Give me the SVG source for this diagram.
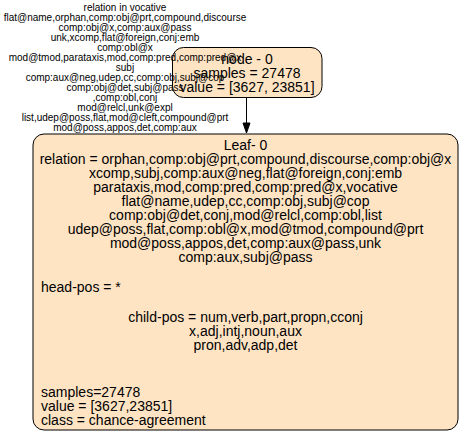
<svg xmlns="http://www.w3.org/2000/svg" width="464" height="434" viewBox="0 0 464 434">
<style>
.box{fill:#ffe4c4;stroke:#000;stroke-width:1}
.t{font-family:"Liberation Sans",Arial,Helvetica,sans-serif;font-size:14px;fill:#000}
.c{text-anchor:middle}
.s{font-family:"Liberation Sans",Arial,Helvetica,sans-serif;font-size:10px;fill:#000;text-anchor:middle}
.e{stroke:#000;stroke-width:1;fill:none}
</style>
<rect width="464" height="434" fill="#fff"/>
<g id="node0">
<rect class="box" x="172.5" y="47.5" width="149.5" height="50" rx="11" ry="11"/>
<text class="t c" x="247" y="64">node - 0</text>
<text class="t c" x="247" y="78">samples = 27478</text>
<text class="t c" x="247" y="92">value = [3627, 23851]</text>
</g>
<g id="leaf0">
<rect class="box" x="33" y="134" width="425" height="296" rx="11" ry="11"/>
<text class="t c" x="245.5" y="150">Leaf- 0</text>
<text class="t c" x="245.5" y="164">relation = orphan,comp:obj@prt,compound,discourse,comp:obj@x</text>
<text class="t c" x="245.5" y="178">xcomp,subj,comp:aux@neg,flat@foreign,conj:emb</text>
<text class="t c" x="245.5" y="192">parataxis,mod,comp:pred,comp:pred@x,vocative</text>
<text class="t c" x="245.5" y="206">flat@name,udep,cc,comp:obj,subj@cop</text>
<text class="t c" x="245.5" y="220">comp:obj@det,conj,mod@relcl,comp:obl,list</text>
<text class="t c" x="245.5" y="234">udep@poss,flat,comp:obl@x,mod@tmod,compound@prt</text>
<text class="t c" x="245.5" y="248">mod@poss,appos,det,comp:aux@pass,unk</text>
<text class="t c" x="245.5" y="262">comp:aux,subj@pass</text>
<text class="t" x="41" y="292">head-pos = *</text>
<text class="t c" x="245.5" y="322">child-pos = num,verb,part,propn,cconj</text>
<text class="t c" x="245.5" y="336">x,adj,intj,noun,aux</text>
<text class="t c" x="245.5" y="350">pron,adv,adp,det</text>
<text class="t" x="41" y="397">samples=27478</text>
<text class="t" x="41" y="411">value = [3627,23851]</text>
<text class="t" x="41" y="425">class = chance-agreement</text>
</g>
<g id="edges">
<line class="e" x1="246.5" y1="97.5" x2="246.5" y2="123"/>
<polygon points="243,123 250,123 246.5,133" fill="#000" stroke="#000"/>
<g id="edge-label">
<text class="s" x="125" y="11">relation in vocative</text>
<text class="s" x="125" y="21">flat@name,orphan,comp:obj@prt,compound,discourse</text>
<text class="s" x="125" y="31">comp:obj@x,comp:aux@pass</text>
<text class="s" x="125" y="41">unk,xcomp,flat@foreign,conj:emb</text>
<text class="s" x="125" y="51">comp:obl@x</text>
<text class="s" x="125" y="61">mod@tmod,parataxis,mod,comp:pred,comp:pred@x</text>
<text class="s" x="125" y="71">subj</text>
<text class="s" x="125" y="81">comp:aux@neg,udep,cc,comp:obj,subj@cop</text>
<text class="s" x="125" y="91">comp:obj@det,subj@pass</text>
<text class="s" x="125" y="101">,comp:obl,conj</text>
<text class="s" x="125" y="111">mod@relcl,unk@expl</text>
<text class="s" x="125" y="121">list,udep@poss,flat,mod@cleft,compound@prt</text>
<text class="s" x="125" y="131">mod@poss,appos,det,comp:aux</text>
</g>
</g>
</svg>
